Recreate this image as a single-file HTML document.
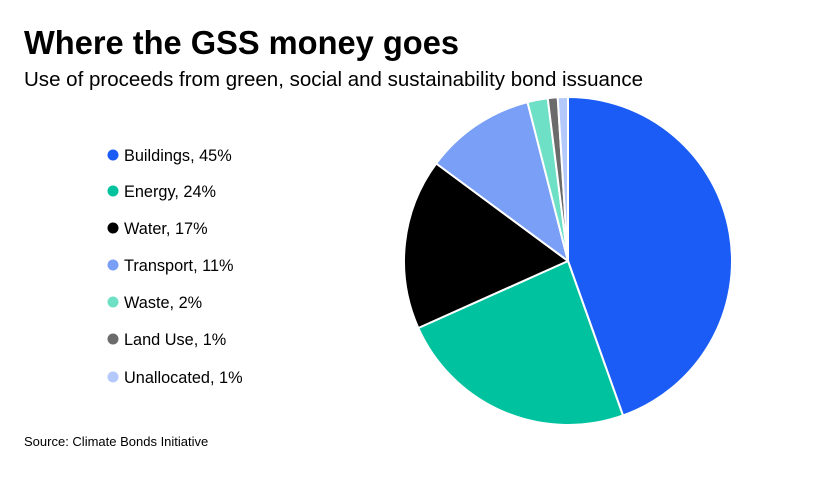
<!DOCTYPE html>
<html><head><meta charset="utf-8"><style>
body{margin:0;background:#fff;}
svg text{font-family:"Liberation Sans",sans-serif;}
</style></head><body>
<svg width="840" height="472" viewBox="0 0 840 472" xmlns="http://www.w3.org/2000/svg">
<rect width="840" height="472" fill="#fff"/>
<text x="24" y="54" font-size="33" font-weight="bold" fill="#000" textLength="435" lengthAdjust="spacingAndGlyphs">Where the GSS money goes</text>
<text x="24" y="86" font-size="20.5" fill="#000" textLength="619" lengthAdjust="spacingAndGlyphs">Use of proceeds from green, social and sustainability bond issuance</text>
<g stroke="#fff" stroke-width="2" stroke-linejoin="round">
<path d="M568,261 L568,97 A164,164 0 0 1 623,415.5 Z" fill="#1a5cf5"/>
<path d="M568,261 L623,415.5 A164,164 0 0 1 418.3,328 Z" fill="#00c29e"/>
<path d="M568,261 L418.3,328 A164,164 0 0 1 436.2,163.5 Z" fill="#000"/>
<path d="M568,261 L436.2,163.5 A164,164 0 0 1 527.5,102.1 Z" fill="#7a9ff7"/>
<path d="M568,261 L527.5,102.1 A164,164 0 0 1 547.7,98.3 Z" fill="#6ee0c6"/>
<path d="M568,261 L547.7,98.3 A164,164 0 0 1 557.7,97.3 Z" fill="#6b6b6b"/>
<path d="M568,261 L557.7,97.3 A164,164 0 0 1 568,97 Z" fill="#b3c8fb"/>
</g>
<g font-size="16.3" fill="#000">
<circle cx="113" cy="155" r="5.5" fill="#1a5cf5"/><text x="124" y="161">Buildings, 45%</text>
<circle cx="113" cy="191" r="5.5" fill="#00c29e"/><text x="124" y="197">Energy, 24%</text>
<circle cx="113" cy="228" r="5.5" fill="#000"/><text x="124" y="234">Water, 17%</text>
<circle cx="113" cy="265" r="5.5" fill="#7a9ff7"/><text x="124" y="271">Transport, 11%</text>
<circle cx="113" cy="302" r="5.5" fill="#6ee0c6"/><text x="124" y="308">Waste, 2%</text>
<circle cx="113" cy="339" r="5.5" fill="#6b6b6b"/><text x="124" y="345">Land Use, 1%</text>
<circle cx="113" cy="377" r="5.5" fill="#b3c8fb"/><text x="124" y="383">Unallocated, 1%</text>
</g>
<text x="24" y="446" font-size="13" fill="#000">Source: Climate Bonds Initiative</text>
</svg>
</body></html>
